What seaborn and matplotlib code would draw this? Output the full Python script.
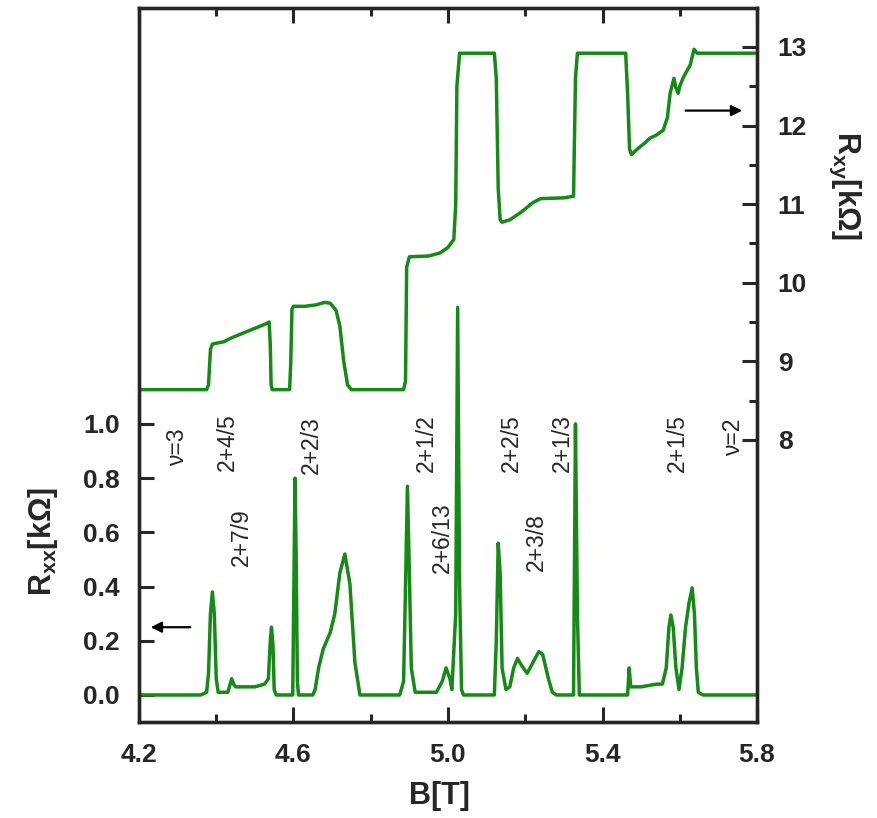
import numpy as np
import matplotlib
matplotlib.use("Agg")
import matplotlib.pyplot as plt
import seaborn as sns
import pandas as pd

# Datos: R_xx (kOhm) frente a B (T)
b_xx = [4.20, 4.36, 4.375, 4.38, 4.385, 4.39, 4.395, 4.40, 4.405, 4.43, 4.44, 4.445,
        4.45, 4.47, 4.50, 4.525, 4.535, 4.54, 4.543, 4.547, 4.55, 4.555, 4.598, 4.604,
        4.607, 4.61, 4.613, 4.65, 4.656, 4.665, 4.677, 4.695, 4.707, 4.72, 4.733, 4.746,
        4.759, 4.772, 4.875, 4.885, 4.89, 4.895, 4.90, 4.905, 4.915,
        4.97, 4.985, 4.995, 5.005, 5.01, 5.02, 5.025, 5.03, 5.035, 5.04, 5.12, 5.125,
        5.13, 5.135, 5.14, 5.15, 5.16, 5.17, 5.18, 5.19, 5.205, 5.22, 5.235, 5.245,
        5.26, 5.27, 5.28, 5.325, 5.33, 5.335, 5.34, 5.465, 5.469, 5.473, 5.50, 5.54,
        5.555, 5.565, 5.572, 5.577, 5.583, 5.59, 5.598, 5.606, 5.615, 5.624, 5.632, 5.638,
        5.643, 5.648, 5.66, 5.80]
r_xx = [0.0, 0.0, 0.01, 0.08, 0.30, 0.38, 0.30, 0.06, 0.01, 0.01, 0.06, 0.04,
        0.03, 0.03, 0.03, 0.04, 0.06, 0.20, 0.25, 0.18, 0.02, 0.0, 0.0, 0.80,
        0.50, 0.05, 0.0, 0.0, 0.02, 0.10, 0.17, 0.23, 0.30, 0.45, 0.52, 0.41,
        0.12, 0.0, 0.0, 0.05, 0.40, 0.77, 0.45, 0.10, 0.01,
        0.01, 0.05, 0.10, 0.06, 0.02, 0.30, 1.43, 0.40, 0.02, 0.0, 0.0, 0.20,
        0.56, 0.45, 0.10, 0.02, 0.03, 0.10, 0.135, 0.11, 0.08, 0.12, 0.16, 0.15,
        0.06, 0.01, 0.0, 0.0, 1.00, 0.30, 0.0, 0.0, 0.10, 0.03, 0.03, 0.04,
        0.04, 0.10, 0.25, 0.295, 0.25, 0.10, 0.02, 0.10, 0.25, 0.34, 0.395, 0.30,
        0.10, 0.01, 0.0, 0.0]

# R_xy (kOhm) frente a B (T)
b_xy = [4.20, 4.375, 4.38, 4.385, 4.39, 4.40, 4.42, 4.44, 4.47, 4.50, 4.53, 4.537,
        4.54, 4.542, 4.545, 4.59, 4.593, 4.596, 4.60, 4.63, 4.66, 4.68, 4.695, 4.71,
        4.72, 4.73, 4.74, 4.75, 4.885, 4.89, 4.893, 4.90, 4.95, 4.98, 5.00, 5.015,
        5.02, 5.023, 5.03, 5.12, 5.125, 5.13, 5.135, 5.14, 5.16, 5.19, 5.22, 5.24,
        5.30, 5.325, 5.33, 5.335, 5.46, 5.465, 5.47, 5.475, 5.49, 5.51, 5.523, 5.54,
        5.557, 5.568, 5.575, 5.585, 5.59, 5.596, 5.60, 5.61, 5.627, 5.637, 5.645, 5.80]
r_xy = [8.64, 8.64, 8.70, 9.15, 9.22, 9.23, 9.25, 9.30, 9.36, 9.42, 9.48, 9.50,
        9.20, 8.70, 8.64, 8.64, 9.00, 9.66, 9.70, 9.70, 9.72, 9.75, 9.74, 9.65,
        9.45, 9.00, 8.70, 8.64, 8.64, 8.75, 10.20, 10.33, 10.34, 10.38, 10.45, 10.55,
        11.00, 12.50, 12.92, 12.92, 12.60, 11.20, 10.80, 10.77, 10.80, 10.90, 11.02, 11.07,
        11.08, 11.10, 12.60, 12.92, 12.92, 12.40, 11.70, 11.63, 11.70, 11.78, 11.84, 11.88,
        11.94, 12.10, 12.41, 12.60, 12.48, 12.41, 12.50, 12.62, 12.77, 12.97, 12.92, 12.92]

# Etiquetas de los estados (texto, B, posicion en escala R_xx)
etiquetas = ["\u03bd=3", "2+4/5", "2+7/9", "2+2/3", "2+1/2", "2+6/13",
             "2+2/5", "2+3/8", "2+1/3", "2+1/5", "\u03bd=2"]
etiq_b = [4.299, 4.428, 4.465, 4.646, 4.945, 4.986, 5.165, 5.23, 5.295, 5.593, 5.738]
etiq_y = [0.915, 0.934, 0.583, 0.922, 0.93, 0.58, 0.93, 0.565, 0.93, 0.93, 0.95]

df_xx = pd.DataFrame({"B": b_xx, "R": r_xx})
df_xy = pd.DataFrame({"B": b_xy, "R": r_xy})

sns.set_style("ticks")
plt.rcParams["font.family"] = ["Liberation Sans", "DejaVu Sans"]
plt.rcParams["mathtext.fontset"] = "custom"
plt.rcParams["mathtext.bf"] = "Liberation Sans:bold"
plt.rcParams["mathtext.rm"] = "Liberation Sans:bold"
plt.rcParams["mathtext.default"] = "bf"

verde = "#168a16"
fig = plt.figure(figsize=(8.78, 8.18), dpi=100)
ax = fig.add_axes([0.1583, 0.1174, 0.7039, 0.8729])

sns.lineplot(data=df_xx, x="B", y="R", ax=ax, color=verde, lw=2.5,
             estimator=None, sort=False)
ax2 = ax.twinx()
sns.lineplot(data=df_xy, x="B", y="R", ax=ax2, color=verde, lw=2.5,
             estimator=None, sort=False)

ax.set_xlim(4.2, 5.8)
ax.set_ylim(-0.0996, 2.535)
ax2.set_ylim(4.412, 13.496)

# Ejes y ticks
ax.set_xticks([4.2, 4.6, 5.0, 5.4, 5.8])
ax.set_xticks([4.4, 4.8, 5.2, 5.6], minor=True)
ax.set_yticks([0.0, 0.2, 0.4, 0.6, 0.8, 1.0])
ax.set_yticklabels(["0.0", "0.2", "0.4", "0.6", "0.8", "1.0"])
ax2.set_yticks([8, 9, 10, 11, 12, 13])
ax2.set_yticks([8.5, 9.5, 10.5, 11.5, 12.5], minor=True)

ax.tick_params(axis="x", which="both", direction="in", top=True, width=2.2,
               labelsize=19, pad=15)
ax.tick_params(axis="x", which="major", length=11)
ax.tick_params(axis="x", which="minor", length=6)
ax.tick_params(axis="y", which="major", direction="in", length=11, width=2.2,
               labelsize=19, pad=14)
ax2.tick_params(axis="y", which="both", direction="in", width=2.2,
                labelsize=19, pad=15)
ax2.tick_params(axis="y", which="major", length=11)
ax2.tick_params(axis="y", which="minor", length=6)
for a in (ax, ax2):
    for lab in a.get_xticklabels() + a.get_yticklabels():
        lab.set_fontweight("bold")
    for s in a.spines.values():
        s.set_linewidth(2.4)

ax.set_xlabel("B[T]", fontsize=22, fontweight="bold")
ax.set_ylabel("R$_{xx}$[k\u03a9]", fontsize=22, fontweight="bold")
ax2.set_ylabel("R$_{xy}$[k\u03a9]", fontsize=22, fontweight="bold", rotation=-90)
ax.xaxis.set_label_coords(0.487, -0.083)
ax.yaxis.set_label_coords(-0.128, 0.252)
ax2.yaxis.set_label_coords(1.17, 0.751)

# Anotaciones de factores de llenado
for txt, xb, yv in zip(etiquetas, etiq_b, etiq_y):
    ax.text(xb, yv, txt, rotation=90, ha="center", va="center", fontsize=16.5)

# Flechas que indican el eje de cada curva
ax.annotate("", xy=(4.223, 0.25), xytext=(4.34, 0.25),
            arrowprops=dict(arrowstyle="-|>", color="black", lw=1.6, mutation_scale=16))
ax2.annotate("", xy=(5.769, 12.19), xytext=(5.608, 12.19),
             arrowprops=dict(arrowstyle="-|>", color="black", lw=1.6, mutation_scale=16))

plt.savefig("out.png", dpi=100)
